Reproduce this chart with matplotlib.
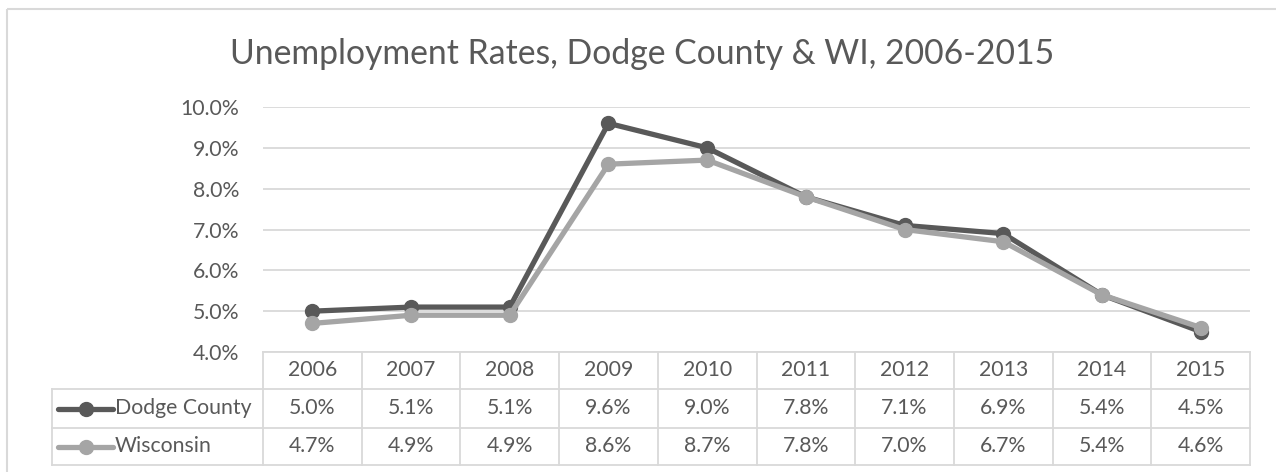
import matplotlib
matplotlib.use("Agg")
import matplotlib.pyplot as plt
from matplotlib.lines import Line2D
from matplotlib.patches import Rectangle
from matplotlib.ticker import FuncFormatter
import matplotlib.transforms as mtransforms

# ---- data ----
years = ["2006", "2007", "2008", "2009", "2010", "2011", "2012", "2013", "2014", "2015"]
dodge = [5.0, 5.1, 5.1, 9.6, 9.0, 7.8, 7.1, 6.9, 5.4, 4.5]
wisconsin = [4.7, 4.9, 4.9, 8.6, 8.7, 7.8, 7.0, 6.7, 5.4, 4.6]
series_names = ["Dodge County", "Wisconsin"]
title = "Unemployment Rates, Dodge County & WI, 2006-2015"
y_ticks = [4.0, 5.0, 6.0, 7.0, 8.0, 9.0, 10.0]

# ---- style ----
FONT = "Lato"
TEXT = "#595959"
GRID = "#D9D9D9"
COLORS = ["#595959", "#A5A5A5"]
W, H = 1276, 472
FS = 15.3

plt.rcParams["font.family"] = [FONT, "DejaVu Sans"]

fig = plt.figure(figsize=(W / 100, H / 100), dpi=100)

# background overlay in pixel coordinates (y downwards)
bg = fig.add_axes([0, 0, 1, 1], zorder=0)
bg.set_xlim(0, W)
bg.set_ylim(H, 0)
bg.axis("off")
bg.add_patch(Rectangle((7, 9), W + 20, H + 20, fill=False, edgecolor=GRID, lw=1.5))

# plot area
x0, x1, ytop, ybot = 263, 1250, 107, 352
ax = fig.add_axes([x0 / W, 1 - ybot / H, (x1 - x0) / W, (ybot - ytop) / H], zorder=2)
ax.patch.set_alpha(0)
n = len(years)
xs = list(range(n))
ax.set_xlim(-0.5, n - 0.5)
ax.set_ylim(4.0, 10.0)
for s in ax.spines.values():
    s.set_visible(False)
ax.set_yticks(y_ticks)
ax.yaxis.set_major_formatter(FuncFormatter(lambda v, p: f"{v:.1f}%"))
ax.tick_params(axis="y", length=0, pad=17, labelsize=FS, labelcolor=TEXT)
ax.set_xticks([])
ax.grid(axis="y", color=GRID, lw=1.3)
ax.set_axisbelow(True)

series = [dodge, wisconsin]
for vals, c in zip(series, COLORS):
    ax.plot(xs, vals, color=c, lw=3.8, marker="o", ms=10, solid_joinstyle="round",
            solid_capstyle="round", clip_on=False)

# title
fig.text(642 / W, 1 - 64 / H, title, ha="center", va="baseline", fontsize=24.3, color=TEXT)

# ---- data table ----
tr = mtransforms.blended_transform_factory(ax.transData, bg.transData)
rows_y = [352, 389, 428, 465]
leg_left = 52
lw_t = 1.3
# horizontal lines
bg.plot([x0, x1], [rows_y[0]] * 2, color=GRID, lw=lw_t)
for yy in rows_y[1:]:
    bg.plot([leg_left, x1], [yy, yy], color=GRID, lw=lw_t)
# vertical lines
for i in range(n + 1):
    ax.plot([i - 0.5, i - 0.5], [rows_y[0], rows_y[-1]], color=GRID, lw=lw_t,
            transform=tr, clip_on=False)
bg.plot([leg_left, leg_left], [rows_y[1], rows_y[-1]], color=GRID, lw=lw_t)

# header
hc = (rows_y[0] + rows_y[1]) / 2
for i, yr in enumerate(years):
    ax.text(i, hc, yr, transform=tr, ha="center", va="center", fontsize=FS, color=TEXT)
# rows
for r, (name, vals, c) in enumerate(zip(series_names, series, COLORS)):
    cy = (rows_y[r + 1] + rows_y[r + 2]) / 2
    for i, v in enumerate(vals):
        ax.text(i, cy, f"{v:.1f}%", transform=tr, ha="center", va="center",
                fontsize=FS, color=TEXT)
    bg.add_line(Line2D([58, 113], [cy, cy], color=c, lw=3.8, solid_capstyle="round"))
    bg.add_line(Line2D([86], [cy], color=c, marker="o", ms=10, lw=0))
    bg.text(115, cy, name, ha="left", va="center", fontsize=FS, color=TEXT)

fig.savefig("out.png", dpi=100)
